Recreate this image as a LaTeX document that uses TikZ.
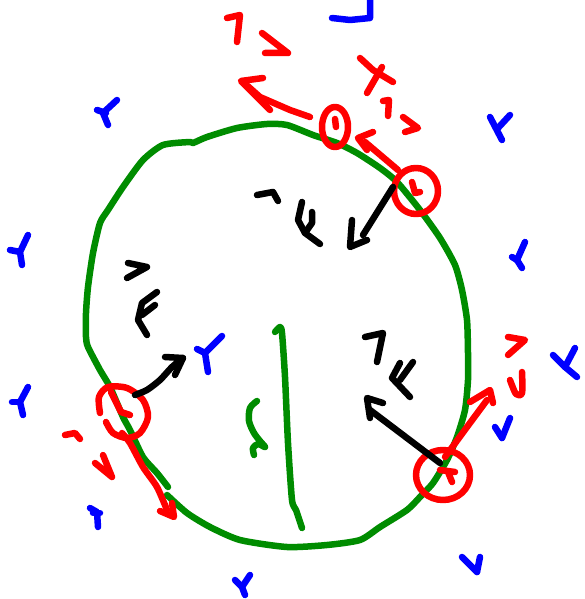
\documentclass[tikz,border=0pt]{standalone}
\definecolor{pengreen}{RGB}{0,140,0}
\definecolor{penred}{RGB}{255,0,0}
\definecolor{penblue}{RGB}{0,0,255}
\tikzset{
  pen/.style={line width=6.5pt, line cap=round, line join=round},
  gstroke/.style={pen, draw=pengreen},
  rstroke/.style={pen, draw=penred},
  bstroke/.style={pen, draw=penblue},
  kstroke/.style={pen, draw=black},
}
\begin{document}
\begin{tikzpicture}[x=1pt,y=-1pt]
\useasboundingbox (0,0) rectangle (584,599);
% big green loop
\draw[gstroke] plot[smooth, tension=0.4] coordinates {(167,495) (187,513) (210,527) (240,540) (287,547) (327,545) (360,540) (380,527) (407,510) (420,497) (433,483) (447,460) (457,437) (465,410) (468,380) (468,353) (467,320) (462,290) (455,265) (440,238) (420,210) (397,182) (380,168) (357,153) (337,143) (313,135) (287,125) (267,124) (237,128) (207,137) (193,143) (190,142) (163,145) (143,160) (123,187) (108,210) (100,223) (93,253) (88,287) (86,313) (86,337) (88,347) (100,370) (110,387) (123,417) (130,430) (143,457) (157,473) (168,487)};
% green vertical line and squiggle
\draw[gstroke] plot[smooth, tension=0.4] coordinates {(275,332) (280,327) (282,333) (285,377) (288,443) (292,500) (296,510) (302,528)};
\draw[gstroke] plot[smooth, tension=0.5] coordinates {(257,401) (250,408) (249,421) (254,433) (260,441) (265,447) (258,444) (253,448) (254,455)};
% red circles
\draw[rstroke] (335,127) ellipse[x radius=13, y radius=20];
\draw[rstroke] (335,119) -- (336,127);
\draw[rstroke] (416,191) ellipse[x radius=22, y radius=23];
\draw[rstroke] (412,182) -- (415,193) -- (420,192);
\draw[rstroke] plot[smooth, tension=0.5] coordinates {(100,413) (99,397) (108,387) (127,388) (143,400) (148,417) (140,433) (127,438) (113,433) (106,422)};
\draw[rstroke] (111,392) -- (121,412) -- (130,415);
\draw[rstroke] (443,475) ellipse[x radius=27, y radius=25];
\draw[rstroke] (440,470) -- (455,472);
\draw[rstroke] (448,472) -- (452,482);
% red arrows
\draw[rstroke] (398,170) -- (365,142);
\draw[rstroke] (373,132) -- (358,138) -- (367,150);
\draw[rstroke] plot[smooth, tension=0.4] coordinates {(122,433) (130,443) (143,467) (157,487) (167,510)};
\draw[rstroke] (160,511) -- (174,517) -- (172,503);
\draw[rstroke] (445,457) -- (467,427) -- (487,400);
\draw[rstroke] (470,402) -- (490,390) -- (493,403);
\draw[rstroke] (310,117) -- (290,110) -- (260,97) -- (242,81);
\draw[rstroke] (263,78) -- (241,81) -- (270,110);
% red marks
\draw[rstroke] (227,18) -- (240,15) -- (237,42);
\draw[rstroke] (262,33) -- (288,53) -- (265,53);
\draw[rstroke] (360,58) -- (373,70) -- (393,82);
\draw[rstroke] (382,67) -- (367,93);
\draw[rstroke] (383,101) -- (389,100) -- (388,116);
\draw[rstroke] (403,117) -- (418,128) -- (405,132);
\draw[rstroke] (65,435) -- (75,433) -- (80,439);
\draw[rstroke] (95,463) -- (112,477) -- (103,455);
\draw[rstroke] (508,337) -- (525,340) -- (508,355);
\draw[rstroke] plot[smooth, tension=0.5] coordinates {(510,380) (516,394) (522,393) (522,372)};
% black arrows
\draw[kstroke] (440,463) -- (370,410);
\draw[kstroke] (383,403) -- (367,398) -- (370,418);
\draw[kstroke] (393,187) -- (363,235);
\draw[kstroke] (352,220) -- (350,247) -- (367,240);
\draw[kstroke] plot[smooth, tension=0.4] coordinates {(135,395) (147,390) (160,380) (172,367) (183,358)};
\draw[kstroke] (165,357) -- (183,358) -- (175,375);
% black marks
\draw[kstroke] (257,195) -- (273,192) -- (278,201);
\draw[kstroke] (302,202) -- (298,220) -- (305,233) -- (320,244);
\draw[kstroke] (312,212) -- (312,223) -- (305,233);
\draw[kstroke] (128,263) -- (147,267) -- (127,278);
\draw[kstroke] (157,292) -- (142,303) -- (138,320) -- (147,335);
\draw[kstroke] (155,305) -- (142,315);
\draw[kstroke] (365,337) -- (383,333) -- (377,362);
\draw[kstroke] (400,363) -- (392,378) -- (410,397);
\draw[kstroke] (413,362) -- (400,380);
% blue marks
\draw[bstroke] (332,18) -- (350,20) -- (370,18) -- (370,0);
\draw[bstroke] (117,100) -- (103,113) -- (108,125);
\draw[bstroke] (97,110) -- (106,113);
\draw[bstroke] (28,235) -- (20,252) -- (22,265);
\draw[bstroke] (10,250) -- (20,252);
\draw[bstroke] (28,387) -- (20,402) -- (23,415);
\draw[bstroke] (12,402) -- (20,402);
\draw[bstroke] (490,117) -- (502,140);
\draw[bstroke] (510,115) -- (498,128);
\draw[bstroke] (525,242) -- (517,260) -- (522,268);
\draw[bstroke] (512,257) -- (517,260);
\draw[bstroke] (575,348) -- (565,367) -- (577,377);
\draw[bstroke] (553,355) -- (565,367);
\draw[bstroke] (510,418) -- (502,438);
\draw[bstroke] (495,427) -- (502,438);
\draw[bstroke] (90,508) -- (97,512) -- (98,527);
\draw[bstroke] (93,513) -- (100,513);
\draw[bstroke] (250,575) -- (242,587) -- (245,595);
\draw[bstroke] (235,580) -- (242,587);
\draw[bstroke] (480,557) -- (477,572);
\draw[bstroke] (462,557) -- (477,572);
\draw[bstroke] (222,336) -- (205,353) -- (208,372);
\draw[bstroke] (197,349) -- (205,353);
\end{tikzpicture}
\end{document}
